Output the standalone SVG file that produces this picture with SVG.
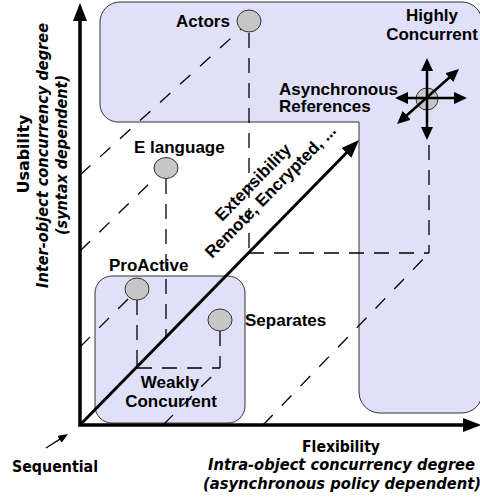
<svg xmlns="http://www.w3.org/2000/svg" width="480" height="501" viewBox="0 0 480 501">
  <defs>
    <style>
      .region { fill: #e0e0f8; stroke: #333; stroke-width: 1; }
      .dot { fill: #c6c6c6; stroke: #333; stroke-width: 1; }
      .dash { fill: none; stroke: #000; stroke-width: 1.3; stroke-dasharray: 15 10; }
      .ddiag { fill: none; stroke: #000; stroke-width: 1.3; stroke-dasharray: 14 13; }
      .axis { fill: none; stroke: #000; stroke-width: 3.5; }
      .thick { fill: none; stroke: #000; stroke-width: 3; }
      .cross { fill: none; stroke: #000; stroke-width: 2.5; }
      .thin { fill: none; stroke: #000; stroke-width: 1.3; }
      .lbl { font-family: "Liberation Sans", Arial, sans-serif; font-weight: bold; font-size: 17px; fill: #000; }
      .ax { font-family: "DejaVu Sans", Verdana, sans-serif; font-weight: bold; font-size: 16px; fill: #000; }
      .it { font-style: italic; }
    </style>
    <marker id="head" markerUnits="userSpaceOnUse" markerWidth="18" markerHeight="14" refX="10" refY="7" orient="auto-start-reverse">
      <path d="M0,0 L18,7 L0,14 Z" fill="#000"/>
    </marker>
    <marker id="head-m" markerUnits="userSpaceOnUse" markerWidth="13" markerHeight="12" refX="7" refY="6" orient="auto-start-reverse">
      <path d="M0,0 L13,6 L0,12 Z" fill="#000"/>
    </marker>
    <marker id="head-s" markerUnits="userSpaceOnUse" markerWidth="10" markerHeight="8" refX="6" refY="4" orient="auto">
      <path d="M0,0 L10,4 L0,8 Z" fill="#000"/>
    </marker>
  </defs>

  <!-- concurrency areas -->
  <g id="highly-concurrent">
    <path class="region" d="M120,2 H462 A20,20 0 0 1 482,22 V393 A20,20 0 0 1 462,413 H380 A21,21 0 0 1 359,392 V122 H118 A18,18 0 0 1 100,104 V22 A20,20 0 0 1 120,2 Z"/>
    <text class="lbl" x="432" y="21" text-anchor="middle">Highly</text>
    <text class="lbl" x="432" y="40" text-anchor="middle">Concurrent</text>
  </g>
  <g id="weakly-concurrent">
    <rect class="region" x="95" y="276" width="150" height="147" rx="17" ry="17"/>
    <text class="lbl" x="170" y="388" text-anchor="middle">Weakly</text>
    <text class="lbl" x="171" y="407" text-anchor="middle">Concurrent</text>
  </g>

  <!-- projection lines and axes -->
  <g id="connectors">
    <!-- diagonal projections -->
    <path class="ddiag" d="M80,175 L241,29"/>
    <path class="ddiag" d="M80,251 L157,176"/>
    <path class="ddiag" d="M80,347 L129,298"/>
    <path class="ddiag" d="M163,425 L220,368"/>
    <path class="ddiag" d="M263,425 L429,253"/>
    <!-- vertical projections down to the main diagonal -->
    <path class="dash" d="M249,33 V253"/>
    <path class="dash" d="M166,179 V337"/>
    <path class="dash" d="M137,300 V368"/>
    <path class="dash" d="M220,331 V368"/>
    <path class="dash" d="M429,145 V253"/>
    <!-- horizontal projections -->
    <path class="dash" d="M249,253 H429"/>
    <path class="dash" d="M137,368 H220"/>

    <!-- axes -->
    <path class="axis" d="M80,11 V425 H473" marker-start="url(#head)" marker-end="url(#head)"/>
    <!-- extensibility diagonal -->
    <path class="thick" d="M80,425 L353.4,145.7" marker-end="url(#head)"/>
    <!-- sequential pointer -->
    <path class="thin" d="M46,448 L64.6,436.1" marker-end="url(#head-s)"/>
  </g>

  <g id="actors">
    <ellipse class="dot" cx="249" cy="21" rx="12" ry="11"/>
    <text class="lbl" x="176" y="27">Actors</text>
  </g>
  <g id="e-language">
    <ellipse class="dot" cx="166" cy="168" rx="12" ry="10.5"/>
    <text class="lbl" x="134" y="153">E language</text>
  </g>
  <g id="proactive">
    <ellipse class="dot" cx="137" cy="289" rx="12" ry="11"/>
    <text class="lbl" x="109" y="271">ProActive</text>
  </g>
  <g id="separates">
    <ellipse class="dot" cx="220" cy="320" rx="12" ry="11"/>
    <text class="lbl" x="245" y="326">Separates</text>
  </g>
  <g id="asynchronous-references">
    <ellipse class="dot" cx="427" cy="99" rx="11" ry="11"/>
    <path class="cross" d="M427,64 V134" marker-start="url(#head-m)" marker-end="url(#head-m)"/>
    <path class="cross" d="M401,98 H461" marker-start="url(#head-m)" marker-end="url(#head-m)"/>
    <path class="cross" d="M401.5,120 L454.5,73" marker-start="url(#head-m)" marker-end="url(#head-m)"/>
    <text class="lbl" x="279" y="95">Asynchronous</text>
    <text class="lbl" x="279" y="112">References</text>
  </g>

  <!-- axis captions -->
  <g id="y-axis-label">
    <text class="ax" transform="translate(29,154) rotate(-90)" text-anchor="middle" textLength="79" lengthAdjust="spacingAndGlyphs">Usability</text>
    <text class="ax it" transform="translate(48,155.5) rotate(-90)" text-anchor="middle" textLength="265" lengthAdjust="spacingAndGlyphs">Inter-object concurrency degree</text>
    <text class="ax it" transform="translate(67,155) rotate(-90)" text-anchor="middle" textLength="160" lengthAdjust="spacingAndGlyphs">(syntax dependent)</text>
  </g>
  <g id="x-axis-label">
    <text class="ax" x="341" y="452" text-anchor="middle" textLength="78" lengthAdjust="spacingAndGlyphs">Flexibility</text>
    <text class="ax it" x="341.5" y="470" text-anchor="middle" textLength="267" lengthAdjust="spacingAndGlyphs">Intra-object concurrency degree</text>
    <text class="ax it" x="342" y="489" text-anchor="middle" textLength="278" lengthAdjust="spacingAndGlyphs">(asynchronous policy dependent)</text>
  </g>
  <g id="sequential">
    <text class="ax" x="12" y="472" textLength="86" lengthAdjust="spacingAndGlyphs">Sequential</text>
  </g>
  <g id="extensibility-label">
    <text class="lbl" transform="translate(222,222) rotate(-45.5)">Extensibility</text>
    <text class="lbl" transform="translate(212,259) rotate(-45.5)">Remote, Encrypted, ...</text>
  </g>
</svg>
